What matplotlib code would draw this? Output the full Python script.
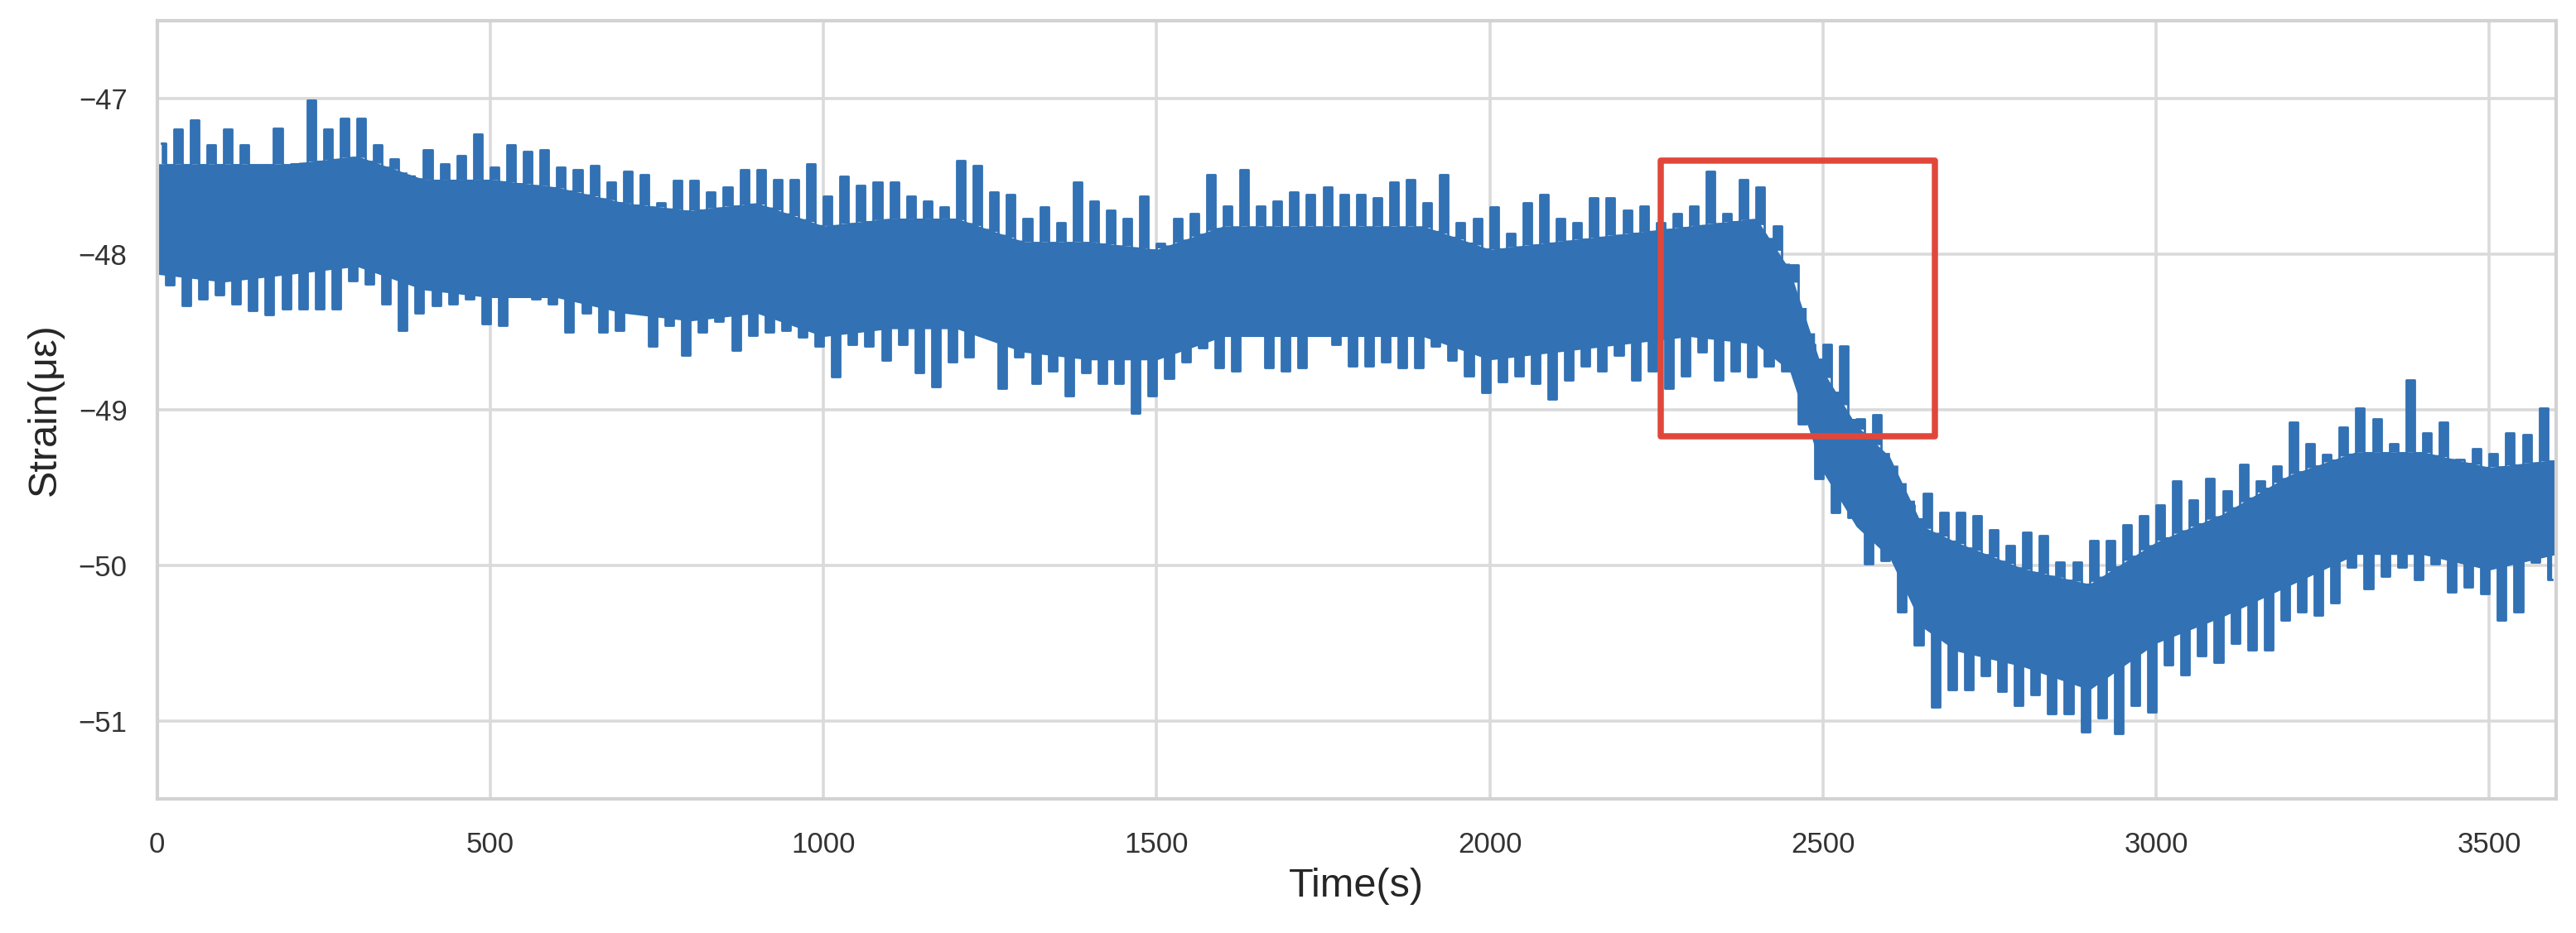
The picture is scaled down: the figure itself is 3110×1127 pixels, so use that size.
import numpy as np
import matplotlib
matplotlib.use("Agg")
import matplotlib.pyplot as plt
from matplotlib.patches import Rectangle

# ---------------- data ----------------
bin_width = 25  # seconds per envelope bin
bin_start = list(range(0, 3600, 25))

# upper spikes per 25 s bin
strain_high = [
    -47.29, -47.20, -47.14, -47.30, -47.20, -47.30, -47.43, -47.19, -47.42, -47.01, -47.20, -47.13, -47.13, -47.30, -47.39, -47.54, -47.33, -47.42,
    -47.37, -47.23, -47.44, -47.30, -47.34, -47.33, -47.44, -47.46, -47.43, -47.54, -47.47, -47.49, -47.67, -47.53, -47.53, -47.60, -47.57, -47.46,
    -47.46, -47.52, -47.52, -47.42, -47.63, -47.50, -47.56, -47.54, -47.54, -47.63, -47.66, -47.70, -47.40, -47.43, -47.60, -47.62, -47.77, -47.70,
    -47.80, -47.54, -47.66, -47.72, -47.77, -47.63, -47.93, -47.77, -47.74, -47.49, -47.69, -47.46, -47.69, -47.66, -47.60, -47.62, -47.57, -47.62,
    -47.62, -47.64, -47.54, -47.52, -47.67, -47.49, -47.80, -47.77, -47.70, -47.87, -47.67, -47.62, -47.77, -47.80, -47.64, -47.64, -47.72, -47.69,
    -47.80, -47.74, -47.69, -47.47, -47.74, -47.52, -47.57, -47.82, -48.07, -48.58, -48.58, -48.59, -49.06, -49.03, -49.45, -49.61, -49.54, -49.66,
    -49.66, -49.68, -49.77, -49.87, -49.79, -49.81, -49.98, -49.98, -49.84, -49.84, -49.74, -49.68, -49.61, -49.46, -49.58, -49.44, -49.52, -49.35,
    -49.46, -49.36, -49.08, -49.22, -49.29, -49.11, -48.99, -49.06, -49.22, -48.81, -49.15, -49.08, -49.32, -49.25, -49.28, -49.15, -49.16, -48.99,
]

# lower spikes per 25 s bin
strain_low = [
    -48.20, -48.33, -48.29, -48.26, -48.32, -48.36, -48.39, -48.35, -48.35, -48.35, -48.35, -48.17, -48.19, -48.32, -48.49, -48.38, -48.33, -48.32,
    -48.29, -48.45, -48.46, -48.25, -48.29, -48.32, -48.50, -48.38, -48.50, -48.49, -48.38, -48.59, -48.46, -48.65, -48.50, -48.43, -48.62, -48.52,
    -48.50, -48.49, -48.53, -48.59, -48.79, -48.58, -48.59, -48.68, -48.58, -48.76, -48.85, -48.69, -48.66, -48.50, -48.86, -48.66, -48.83, -48.75,
    -48.91, -48.76, -48.83, -48.83, -49.02, -48.91, -48.80, -48.69, -48.60, -48.73, -48.75, -48.49, -48.73, -48.75, -48.73, -48.49, -48.58, -48.72,
    -48.72, -48.69, -48.73, -48.73, -48.59, -48.68, -48.78, -48.89, -48.82, -48.78, -48.83, -48.93, -48.81, -48.72, -48.75, -48.65, -48.81, -48.75,
    -48.86, -48.78, -48.63, -48.81, -48.75, -48.79, -48.72, -48.75, -49.09, -49.44, -49.66, -49.69, -49.99, -49.97, -50.30, -50.51, -50.91, -50.80,
    -50.80, -50.71, -50.81, -50.90, -50.83, -50.95, -50.95, -51.07, -50.98, -51.08, -50.90, -50.94, -50.64, -50.70, -50.58, -50.62, -50.50, -50.54,
    -50.54, -50.35, -50.30, -50.32, -50.24, -50.01, -50.15, -50.07, -50.01, -50.09, -49.99, -50.17, -50.14, -50.18, -50.35, -50.30, -49.98, -50.09,
]

# dense core of the noisy band
core_time = [0, 100, 200, 300, 400, 500, 600, 700, 800, 900, 1000, 1100, 1200, 1300, 1400, 1500,
             1600, 1700, 1800, 1900, 2000, 2100, 2200, 2300, 2400, 2450, 2500, 2550, 2600, 2650,
             2700, 2800, 2900, 3000, 3100, 3200, 3300, 3400, 3500, 3600]
core_top = [-47.42, -47.42, -47.42, -47.37, -47.52, -47.52, -47.57, -47.67, -47.72, -47.67, -47.82, -47.77,
            -47.77, -47.92, -47.92, -47.97, -47.82, -47.82, -47.82, -47.82, -47.97, -47.92, -47.87, -47.82,
            -47.77, -48.10, -48.75, -49.10, -49.30, -49.75, -49.85, -50.02, -50.12, -49.85, -49.67, -49.42,
            -49.27, -49.27, -49.37, -49.32]
core_bottom = [-48.13, -48.18, -48.13, -48.08, -48.23, -48.28, -48.28, -48.38, -48.43, -48.38, -48.53, -48.48,
               -48.48, -48.63, -48.68, -48.68, -48.53, -48.53, -48.53, -48.53, -48.68, -48.63, -48.58, -48.53,
               -48.58, -48.75, -49.40, -49.75, -49.95, -50.40, -50.55, -50.65, -50.80, -50.50, -50.33, -50.13,
               -49.93, -49.93, -50.03, -49.93]

# highlighted window
box_time = [2256, 2668]
box_strain = [-49.17, -47.40]

x_ticks = [0, 500, 1000, 1500, 2000, 2500, 3000, 3500]
y_ticks = [-51, -50, -49, -48, -47]

# ---------------- build the signal trace ----------------
t_hi = np.array(bin_start) + bin_width * 0.25
t_lo = np.array(bin_start) + bin_width * 0.75
trace_t = np.ravel(np.column_stack([t_hi, t_lo]))
trace_v = np.ravel(np.column_stack([strain_high, strain_low]))
core_top_at_trace = np.interp(trace_t, core_time, core_top)

# ---------------- plot ----------------
plt.rcParams['font.family'] = ['Liberation Sans', 'DejaVu Sans']
line_color = '#3171b4'
grid_color = '#dadada'

fig = plt.figure(figsize=(15.55, 5.635), dpi=200)
ax = fig.add_axes([0.061, 0.1437, 0.9312, 0.8343])

ax.fill_between(core_time, core_bottom, core_top, color=line_color, linewidth=0, zorder=2)
ax.fill_between(trace_t, trace_v, core_top_at_trace, step='mid', color=line_color, linewidth=0, zorder=2)
ax.plot(trace_t, trace_v, color=line_color, linewidth=1.0, drawstyle='steps-mid', zorder=3)

rect = Rectangle((box_time[0], box_strain[0]), box_time[1] - box_time[0], box_strain[1] - box_strain[0],
                 fill=False, edgecolor='#e0473a', linewidth=2.7, joinstyle='round', zorder=4)
ax.add_patch(rect)

ax.set_xlim(0, 3600)
ax.set_ylim(-51.5, -46.5)
ax.set_xticks(x_ticks)
ax.set_yticks(y_ticks)

ax.grid(True, color=grid_color, linewidth=1.3)
ax.set_axisbelow(True)
for s in ax.spines.values():
    s.set_color('#d2d2d2')
    s.set_linewidth(1.5)

ax.tick_params(axis='both', length=0, labelsize=12.5, labelcolor='#333333')
ax.tick_params(axis='x', pad=14)
ax.tick_params(axis='y', pad=13)

ax.set_xlabel('Time(s)', fontsize=17.5, color='#262626')
ax.set_ylabel('Strain(με)', fontsize=17.5, color='#262626')
ax.xaxis.set_label_coords(0.5, -0.088)
ax.yaxis.set_label_coords(-0.039, 0.5)

fig.savefig('out.png', dpi=200, facecolor='white')
